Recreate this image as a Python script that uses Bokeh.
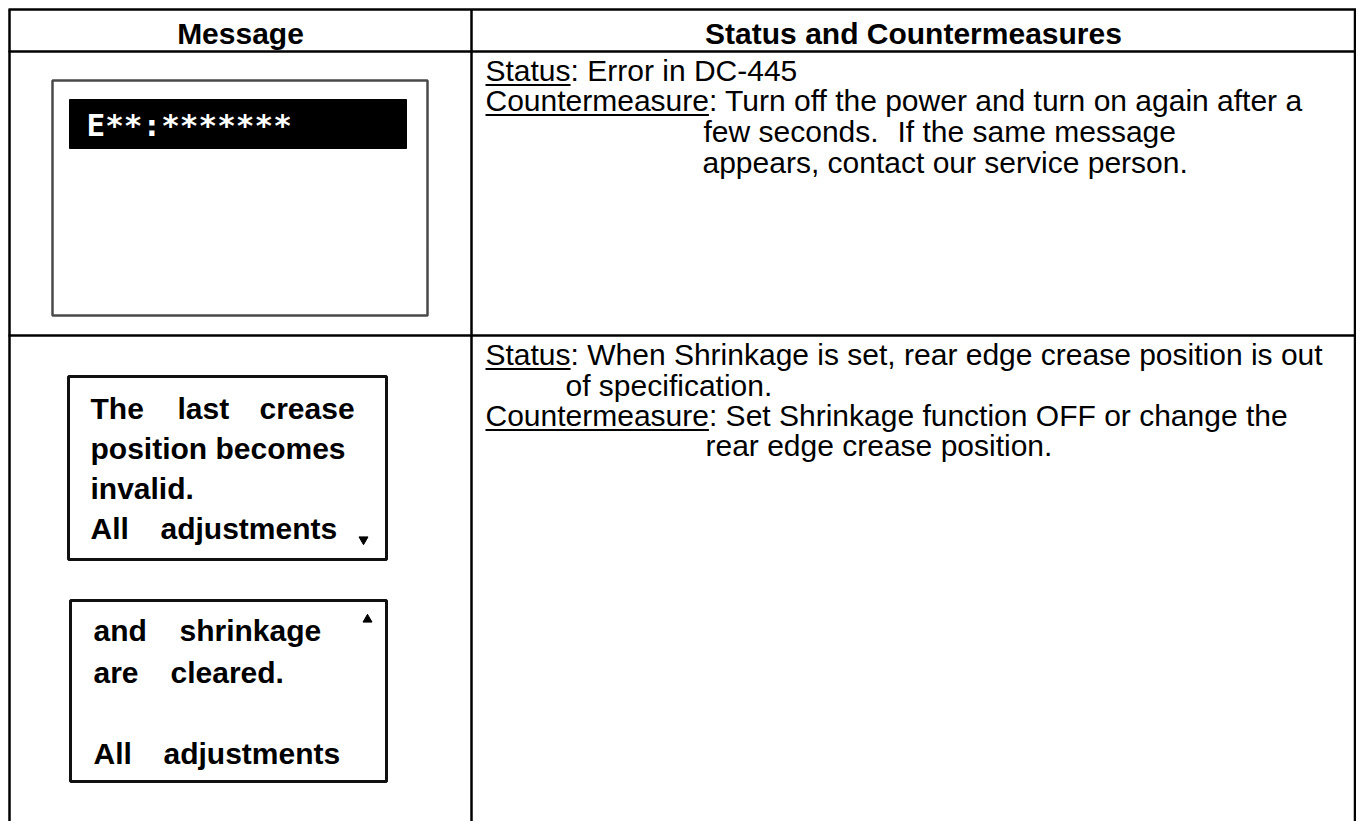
from bokeh.plotting import figure
from bokeh.models import Range1d
from bokeh.core.properties import value
from bokeh.embed import file_html
from bokeh.resources import INLINE

# ---------------- data (texts) ----------------
headers = ["Message", "Status and Countermeasures"]
lcd_message = "E**:*******"
box2_words = ["The", "last", "crease", "position becomes", "invalid.", "All", "adjustments"]
box3_words = ["and", "shrinkage", "are", "cleared.", "All", "adjustments"]
labels = ["Status", "Countermeasure"]
row1_lines = ["Status: Error in DC-445",
              "Countermeasure: Turn off the power and turn on again after a",
              "few seconds.",
              "If the same message",
              "appears, contact our service person."]
row2_lines = ["Status: When Shrinkage is set, rear edge crease position is out",
              "of specification.",
              "Countermeasure: Set Shrinkage function OFF or change the",
              "rear edge crease position."]

# ---------------- layout ----------------
FONT = value("Liberation Sans")
p = figure(width=1356, height=821, x_range=Range1d(0, 1356), y_range=Range1d(821, 0),
           output_backend="svg", toolbar_location=None, min_border=0,
           x_axis_location=None, y_axis_location=None)
p.grid.visible = False
p.outline_line_color = None
p.background_fill_color = "white"
p.border_fill_color = "white"

# table lines
p.segment(x0=[8, 8, 8, 9, 471, 1354.5], y0=[9, 51, 335, 9, 9, 9],
          x1=[1355.5, 1355.5, 1355.5, 9, 471, 1354.5], y1=[9, 51, 335, 821, 821, 821],
          line_color="black", line_width=2.5)

# headers
p.text(x=[240, 913], y=[32.5, 32.5], text=headers, text_font=FONT, text_font_style="bold",
       text_font_size="30px", text_align="center", text_baseline="middle", text_color="black")

# message box 1 (LCD)
p.quad(left=[52], right=[427], top=[80], bottom=[315], fill_color="white",
       line_color="#4a4a4a", line_width=2.5)
p.quad(left=[69], right=[406], top=[99], bottom=[148], fill_color="black", line_color="black")
p.text(x=[86], y=[124], text=[lcd_message], text_font=value("DejaVu Sans Mono"),
       text_font_style="bold", text_font_size="31px", text_baseline="middle",
       text_color="white")

# message box 2 & 3
p.quad(left=[68, 70], right=[386, 386], top=[376, 600], bottom=[559, 781],
       fill_color="white", line_color="#111111", line_width=3)
p.text(x=[90, 177, 259, 90, 90, 90, 160], y=[407.5, 407.5, 407.5, 447.5, 487.5, 527.5, 527.5],
       text=box2_words, text_font=FONT, text_font_style="bold", text_font_size="30px",
       text_baseline="middle", text_color="black")
p.text(x=[93, 179, 93, 170, 93, 163], y=[629.5, 629.5, 671.5, 671.5, 752.5, 752.5],
       text=box3_words, text_font=FONT, text_font_style="bold", text_font_size="30px",
       text_baseline="middle", text_color="black")
p.scatter(x=[363], y=[539], marker="inverted_triangle", size=9, color="black")
p.scatter(x=[367], y=[619], marker="triangle", size=9, color="black")

# right column texts
p.text(x=[485, 485, 703, 897, 702], y=[69.5, 99.5, 130.5, 130.5, 161.5], text=row1_lines,
       text_font=FONT, text_font_size="30px", text_baseline="middle", text_color="black")
p.text(x=[485, 565, 485, 705], y=[353.5, 384.5, 414.5, 444.5], text=row2_lines,
       text_font=FONT, text_font_size="30px", text_baseline="middle", text_color="black")

# underlines of the labels (Arial metrics: Status 2.835em, Countermeasure 7.447em at 30px)
label_w = {"Status": 2.835 * 30, "Countermeasure": 7.447 * 30}
ul_y = [84.5, 114.5, 368.5, 429.5]
ul_lab = [labels[0], labels[1], labels[0], labels[1]]
p.segment(x0=[485] * 4, y0=ul_y, x1=[485 + label_w[l] for l in ul_lab], y1=ul_y,
          line_color="black", line_width=2)

open("out.html", "w").write(file_html(p, INLINE))
